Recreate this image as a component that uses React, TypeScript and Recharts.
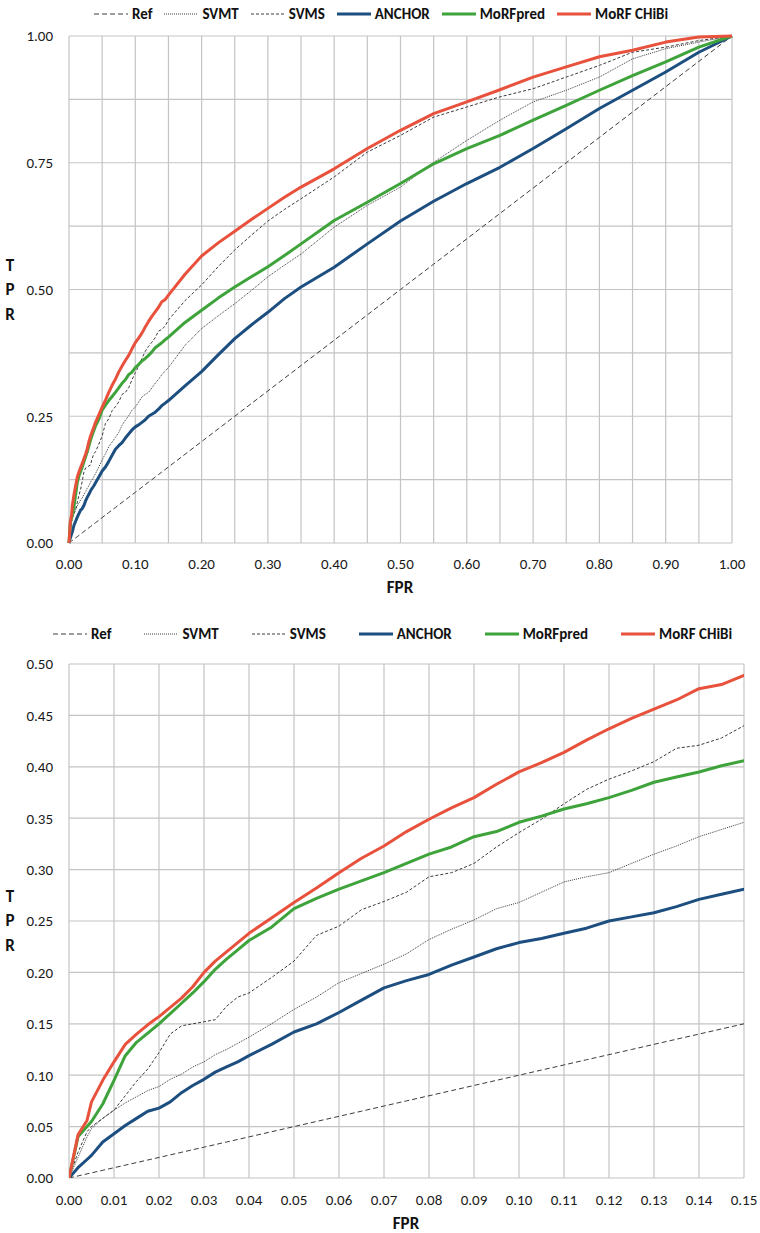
import React from "react";
import { LineChart, Line, XAxis, YAxis, CartesianGrid } from "recharts";

// ---- data ----
const FPR = [
  0, 0.002, 0.004, 0.005, 0.0075, 0.01, 0.0125, 0.015, 0.0175, 0.02,
  0.0225, 0.025, 0.0275, 0.03, 0.0325, 0.035, 0.0375, 0.04, 0.045, 0.05,
  0.055, 0.06, 0.065, 0.07, 0.075, 0.08, 0.085, 0.09, 0.095, 0.1,
  0.105, 0.11, 0.115, 0.12, 0.125, 0.13, 0.135, 0.14, 0.145, 0.15,
  0.175, 0.2, 0.225, 0.25, 0.275, 0.3, 0.325, 0.35, 0.4, 0.45,
  0.5, 0.55, 0.6, 0.65, 0.7, 0.75, 0.8, 0.85, 0.9, 0.95,
  1,
];

const REF = [
  0, 0.002, 0.004, 0.005, 0.0075, 0.01, 0.0125, 0.015, 0.0175, 0.02,
  0.0225, 0.025, 0.0275, 0.03, 0.0325, 0.035, 0.0375, 0.04, 0.045, 0.05,
  0.055, 0.06, 0.065, 0.07, 0.075, 0.08, 0.085, 0.09, 0.095, 0.1,
  0.105, 0.11, 0.115, 0.12, 0.125, 0.13, 0.135, 0.14, 0.145, 0.15,
  0.175, 0.2, 0.225, 0.25, 0.275, 0.3, 0.325, 0.35, 0.4, 0.45,
  0.5, 0.55, 0.6, 0.65, 0.7, 0.75, 0.8, 0.85, 0.9, 0.95,
  1,
];

const SVMT = [
  0, 0.02, 0.04, 0.048, 0.058, 0.066, 0.073, 0.079, 0.085, 0.089,
  0.096, 0.101, 0.108, 0.113, 0.12, 0.125, 0.131, 0.137, 0.15, 0.164,
  0.176, 0.19, 0.199, 0.208, 0.218, 0.232, 0.242, 0.251, 0.262, 0.268,
  0.278, 0.288, 0.293, 0.297, 0.306, 0.315, 0.323, 0.332, 0.339, 0.346,
  0.39, 0.423, 0.448, 0.472, 0.498, 0.525, 0.548, 0.57, 0.623, 0.666,
  0.702, 0.751, 0.794, 0.834, 0.87, 0.893, 0.919, 0.955, 0.975, 0.988,
  1,
];

const SVMS = [
  0, 0.025, 0.045, 0.05, 0.058, 0.066, 0.08, 0.094, 0.106, 0.122,
  0.14, 0.148, 0.15, 0.152, 0.154, 0.167, 0.176, 0.18, 0.195, 0.211,
  0.236, 0.245, 0.261, 0.269, 0.278, 0.293, 0.297, 0.306, 0.322, 0.336,
  0.349, 0.364, 0.378, 0.388, 0.396, 0.405, 0.418, 0.421, 0.428, 0.44,
  0.478, 0.509, 0.545, 0.578, 0.607, 0.635, 0.658, 0.679, 0.722, 0.771,
  0.804, 0.84, 0.86, 0.88, 0.896, 0.919, 0.942, 0.968, 0.978, 0.991,
  1,
];

const ANCHOR = [
  0, 0.01, 0.018, 0.022, 0.035, 0.043, 0.051, 0.058, 0.065, 0.068,
  0.074, 0.083, 0.09, 0.096, 0.103, 0.108, 0.113, 0.119, 0.13, 0.142,
  0.15, 0.161, 0.173, 0.185, 0.192, 0.198, 0.207, 0.215, 0.223, 0.229,
  0.233, 0.238, 0.243, 0.25, 0.254, 0.258, 0.264, 0.271, 0.276, 0.281,
  0.31, 0.338, 0.371, 0.403, 0.43, 0.455, 0.482, 0.505, 0.544, 0.59,
  0.635, 0.674, 0.709, 0.741, 0.778, 0.817, 0.857, 0.893, 0.929, 0.968,
  1,
];

const MORFPRED = [
  0, 0.04, 0.05, 0.055, 0.072, 0.095, 0.119, 0.132, 0.141, 0.15,
  0.16, 0.17, 0.18, 0.191, 0.203, 0.213, 0.222, 0.231, 0.244, 0.262,
  0.272, 0.281, 0.289, 0.297, 0.306, 0.315, 0.322, 0.332, 0.337, 0.346,
  0.352, 0.359, 0.364, 0.37, 0.377, 0.385, 0.39, 0.395, 0.401, 0.406,
  0.435, 0.459, 0.483, 0.505, 0.525, 0.545, 0.567, 0.59, 0.636, 0.672,
  0.709, 0.748, 0.778, 0.804, 0.834, 0.863, 0.893, 0.922, 0.949, 0.978,
  1,
];

const CHIBI = [
  0, 0.042, 0.056, 0.074, 0.095, 0.113, 0.13, 0.14, 0.149, 0.157,
  0.166, 0.175, 0.186, 0.2, 0.211, 0.22, 0.229, 0.238, 0.253, 0.268,
  0.282, 0.297, 0.311, 0.323, 0.337, 0.349, 0.36, 0.37, 0.383, 0.395,
  0.404, 0.414, 0.426, 0.437, 0.447, 0.456, 0.465, 0.476, 0.48, 0.489,
  0.53, 0.566, 0.592, 0.615, 0.638, 0.66, 0.682, 0.702, 0.738, 0.778,
  0.814, 0.847, 0.87, 0.894, 0.919, 0.939, 0.959, 0.972, 0.988, 0.998,
  1,
];

const TOP_X_TICKS = [0, 0.05, 0.1, 0.15, 0.2, 0.25, 0.3, 0.35, 0.4, 0.45, 0.5, 0.55, 0.6, 0.65, 0.7, 0.75, 0.8, 0.85, 0.9, 0.95, 1];
const TOP_X_LABELS = [0, 0.1, 0.2, 0.3, 0.4, 0.5, 0.6, 0.7, 0.8, 0.9, 1];
const TOP_Y_TICKS = [0, 0.125, 0.25, 0.375, 0.5, 0.625, 0.75, 0.875, 1];
const TOP_Y_LABELS = [0, 0.25, 0.5, 0.75, 1];
const BOT_X_TICKS = [0, 0.01, 0.02, 0.03, 0.04, 0.05, 0.06, 0.07, 0.08, 0.09, 0.1, 0.11, 0.12, 0.13, 0.14, 0.15];
const BOT_Y_TICKS = [0, 0.05, 0.1, 0.15, 0.2, 0.25, 0.3, 0.35, 0.4, 0.45, 0.5];

const rows = FPR.map((x, i) => ({
  fpr: x,
  ref: REF[i],
  svmt: SVMT[i],
  svms: SVMS[i],
  anchor: ANCHOR[i],
  morfpred: MORFPRED[i],
  chibi: CHIBI[i],
}));

// ---- styling ----
const FONT = "Carlito, Calibri, Lato, 'Open Sans', sans-serif";
const GRID = "#c4c4c4";
const SERIES = [
  { key: "ref", name: "Ref", color: "#3c3c3c", width: 1, dash: "5 3" },
  { key: "svmt", name: "SVMT", color: "#3c3c3c", width: 1, dash: "1 1" },
  { key: "svms", name: "SVMS", color: "#3c3c3c", width: 1, dash: "3 2" },
  { key: "anchor", name: "ANCHOR", color: "#1d4e80", width: 3, dash: undefined },
  { key: "morfpred", name: "MoRFpred", color: "#3da33a", width: 3, dash: undefined },
  { key: "chibi", name: "MoRF CHiBi", color: "#e8513c", width: 3, dash: undefined },
];

const near = (list: number[], v: number) => list.some((t) => Math.abs(t - v) < 1e-6);

function LegendRow({ top, gap, left }: { top: number; gap: number; left: number }) {
  return (
    <div
      style={{
        position: "absolute",
        top: top - 10,
        left,
        height: 20,
        display: "flex",
        alignItems: "center",
        gap,
        fontFamily: FONT,
        fontWeight: 700,
        fontSize: 15,
        color: "#111",
        whiteSpace: "nowrap",
      }}
    >
      {SERIES.map((s) => (
        <div key={s.key} style={{ display: "flex", alignItems: "center", gap: 4 }}>
          <svg width={34} height={8}>
            <line
              x1={0}
              y1={4}
              x2={34}
              y2={4}
              stroke={s.color}
              strokeWidth={s.width}
              strokeDasharray={s.dash}
            />
          </svg>
          <span>{s.name}</span>
        </div>
      ))}
    </div>
  );
}

function AxisTitles({ fprX, fprY, tprY }: { fprX: number; fprY: number; tprY: number }) {
  const bold = { fontFamily: FONT, fontWeight: 700, fontSize: 17, color: "#111" } as const;
  return (
    <>
      <div style={{ ...bold, position: "absolute", left: fprX - 40, width: 80, textAlign: "center", top: fprY - 11, lineHeight: "22px" }}>
        FPR
      </div>
      {["T", "P", "R"].map((c, i) => (
        <div
          key={c}
          style={{ ...bold, position: "absolute", left: 0, width: 20, textAlign: "center", top: tprY - 11 + (i - 1) * 24.5, lineHeight: "22px" }}
        >
          {c}
        </div>
      ))}
    </>
  );
}

const tickStyle = { fontSize: 15, fill: "#1a1a1a", fontFamily: FONT };

function Series() {
  return SERIES.map((s) => (
    <Line
      key={s.key}
      type="linear"
      dataKey={s.key}
      name={s.name}
      stroke={s.color}
      strokeWidth={s.width}
      strokeDasharray={s.dash}
      dot={false}
      activeDot={false}
      isAnimationActive={false}
      strokeLinejoin="round"
    />
  ));
}

export default function App() {
  return (
    <div style={{ position: "absolute", left: 0, top: 0, width: 760, height: 1233, background: "#fff" }}>
      <LegendRow top={14} gap={12} left={94} />
      <div style={{ position: "absolute", left: 0, top: 0 }}>
        <LineChart width={760} height={600} data={rows} margin={{ top: 36, right: 28, left: 9, bottom: 27 }}>
          <CartesianGrid stroke={GRID} strokeWidth={1.2} />
          <XAxis
            dataKey="fpr"
            type="number"
            domain={[0, 1]}
            ticks={TOP_X_TICKS}
            interval={0}
            tickFormatter={(v: number) => (near(TOP_X_LABELS, v) ? v.toFixed(2) : "")}
            axisLine={false}
            tickLine={false}
            tickSize={6}
            tickMargin={9}
            height={30}
            tick={tickStyle}
          />
          <YAxis
            type="number"
            domain={[0, 1]}
            ticks={TOP_Y_TICKS}
            interval={0}
            tickFormatter={(v: number) => (near(TOP_Y_LABELS, v) ? v.toFixed(2) : "")}
            axisLine={false}
            tickLine={false}
            tickSize={6}
            tickMargin={10}
            width={60}
            tick={tickStyle}
          />
          {Series()}
        </LineChart>
      </div>
      <AxisTitles fprX={400} fprY={588} tprY={290} />

      <LegendRow top={634} gap={33} left={53} />
      <div style={{ position: "absolute", left: 0, top: 620 }}>
        <LineChart width={760} height={613} data={rows} margin={{ top: 44, right: 16, left: 9, bottom: 25 }}>
          <CartesianGrid stroke={GRID} strokeWidth={1.2} />
          <XAxis
            dataKey="fpr"
            type="number"
            domain={[0, 0.15]}
            allowDataOverflow
            ticks={BOT_X_TICKS}
            interval={0}
            tickFormatter={(v: number) => v.toFixed(2)}
            axisLine={false}
            tickLine={false}
            tickSize={6}
            tickMargin={10}
            height={30}
            tick={tickStyle}
          />
          <YAxis
            type="number"
            domain={[0, 0.5]}
            allowDataOverflow
            ticks={BOT_Y_TICKS}
            interval={0}
            tickFormatter={(v: number) => v.toFixed(2)}
            axisLine={false}
            tickLine={false}
            tickSize={6}
            tickMargin={10}
            width={60}
            tick={tickStyle}
          />
          {Series()}
        </LineChart>
      </div>
      <AxisTitles fprX={406} fprY={1224} tprY={921} />
    </div>
  );
}
